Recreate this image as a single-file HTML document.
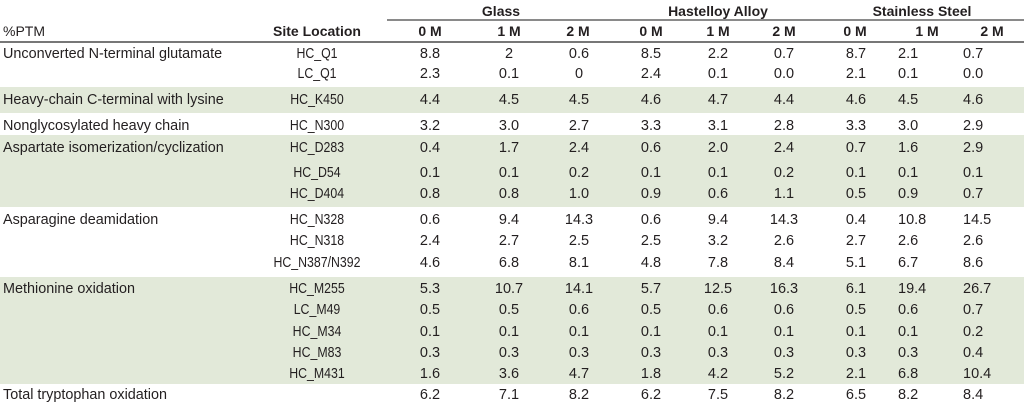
<!DOCTYPE html>
<html>
<head>
<meta charset="utf-8">
<style>
  html,body{margin:0;padding:0;background:#fff;}
  body{width:1024px;height:405px;position:relative;overflow:hidden;
       font-family:"Liberation Sans",Arial,sans-serif;color:#231f20;}
  .band{position:absolute;left:0;width:1024px;background:#e2e9d9;}
  .line{position:absolute;height:2px;}
  .c{position:absolute;height:20px;line-height:20px;white-space:nowrap;font-size:14.5px;}
  .lab{left:3px;font-size:14.4px;}
  .site{left:257px;width:120px;text-align:center;font-size:14.5px;transform:scaleX(0.85);transform-origin:center;}
  .n{width:80px;text-align:center;}
  .g0{left:390px}.g1{left:469px}.g2{left:539px}
  .h0{left:611px}.h1{left:678px}.h2{left:744px}
  .s0{left:816px}
  .s1{left:898px;text-align:left}
  .s2{left:963px;text-align:left}
  .b{font-weight:bold;font-size:14px;}
  .hd{top:21px;}
  .tt{top:1px;width:160px;text-align:center;}
</style>
</head>
<body>
<!-- green bands -->
<div class="band" style="top:87px;height:26px;"></div>
<div class="band" style="top:135px;height:72px;"></div>
<div class="band" style="top:277px;height:107px;"></div>

<!-- rules -->
<div class="line" style="left:387px;width:637px;top:19px;background:#8a8a8a;"></div>
<div class="line" style="left:0;width:1024px;top:41px;background:#777;"></div>

<!-- group titles -->
<div class="c b tt" style="left:421px;">Glass</div>
<div class="c b tt" style="left:638px;">Hastelloy Alloy</div>
<div class="c b tt" style="left:842px;">Stainless Steel</div>

<!-- header row -->
<div class="c hd lab" style="font-size:14px;">%PTM</div>
<div class="c hd b" style="left:257px;width:120px;text-align:center;">Site Location</div>
<div class="c hd b n" style="left:390px;">0 M</div>
<div class="c hd b n" style="left:469px;">1 M</div>
<div class="c hd b n" style="left:538px;">2 M</div>
<div class="c hd b n" style="left:611px;">0 M</div>
<div class="c hd b n" style="left:678px;">1 M</div>
<div class="c hd b n" style="left:744px;">2 M</div>
<div class="c hd b n" style="left:815px;">0 M</div>
<div class="c hd b n" style="left:887px;">1 M</div>
<div class="c hd b n" style="left:952px;">2 M</div>

<!-- row 54 -->
<div class="c lab" style="top:44px;">Unconverted N-terminal glutamate</div>
<div class="c site" style="top:44px;">HC_Q1</div>
<div class="c n g0" style="top:44px;">8.8</div><div class="c n g1" style="top:44px;">2</div><div class="c n g2" style="top:44px;">0.6</div>
<div class="c n h0" style="top:44px;">8.5</div><div class="c n h1" style="top:44px;">2.2</div><div class="c n h2" style="top:44px;">0.7</div>
<div class="c n s0" style="top:44px;">8.7</div><div class="c s1" style="top:44px;">2.1</div><div class="c s2" style="top:44px;">0.7</div>

<!-- row 74 -->
<div class="c site" style="top:64px;">LC_Q1</div>
<div class="c n g0" style="top:64px;">2.3</div><div class="c n g1" style="top:64px;">0.1</div><div class="c n g2" style="top:64px;">0</div>
<div class="c n h0" style="top:64px;">2.4</div><div class="c n h1" style="top:64px;">0.1</div><div class="c n h2" style="top:64px;">0.0</div>
<div class="c n s0" style="top:64px;">2.1</div><div class="c s1" style="top:64px;">0.1</div><div class="c s2" style="top:64px;">0.0</div>

<!-- row 100 -->
<div class="c lab" style="top:90px;">Heavy-chain C-terminal with lysine</div>
<div class="c site" style="top:90px;">HC_K450</div>
<div class="c n g0" style="top:90px;">4.4</div><div class="c n g1" style="top:90px;">4.5</div><div class="c n g2" style="top:90px;">4.5</div>
<div class="c n h0" style="top:90px;">4.6</div><div class="c n h1" style="top:90px;">4.7</div><div class="c n h2" style="top:90px;">4.4</div>
<div class="c n s0" style="top:90px;">4.6</div><div class="c s1" style="top:90px;">4.5</div><div class="c s2" style="top:90px;">4.6</div>

<!-- row 126 -->
<div class="c lab" style="top:116px;">Nonglycosylated heavy chain</div>
<div class="c site" style="top:116px;">HC_N300</div>
<div class="c n g0" style="top:116px;">3.2</div><div class="c n g1" style="top:116px;">3.0</div><div class="c n g2" style="top:116px;">2.7</div>
<div class="c n h0" style="top:116px;">3.3</div><div class="c n h1" style="top:116px;">3.1</div><div class="c n h2" style="top:116px;">2.8</div>
<div class="c n s0" style="top:116px;">3.3</div><div class="c s1" style="top:116px;">3.0</div><div class="c s2" style="top:116px;">2.9</div>

<!-- row 148 -->
<div class="c lab" style="top:138px;">Aspartate isomerization/cyclization</div>
<div class="c site" style="top:138px;">HC_D283</div>
<div class="c n g0" style="top:138px;">0.4</div><div class="c n g1" style="top:138px;">1.7</div><div class="c n g2" style="top:138px;">2.4</div>
<div class="c n h0" style="top:138px;">0.6</div><div class="c n h1" style="top:138px;">2.0</div><div class="c n h2" style="top:138px;">2.4</div>
<div class="c n s0" style="top:138px;">0.7</div><div class="c s1" style="top:138px;">1.6</div><div class="c s2" style="top:138px;">2.9</div>

<!-- row 173 -->
<div class="c site" style="top:163px;">HC_D54</div>
<div class="c n g0" style="top:163px;">0.1</div><div class="c n g1" style="top:163px;">0.1</div><div class="c n g2" style="top:163px;">0.2</div>
<div class="c n h0" style="top:163px;">0.1</div><div class="c n h1" style="top:163px;">0.1</div><div class="c n h2" style="top:163px;">0.2</div>
<div class="c n s0" style="top:163px;">0.1</div><div class="c s1" style="top:163px;">0.1</div><div class="c s2" style="top:163px;">0.1</div>

<!-- row 194 -->
<div class="c site" style="top:184px;">HC_D404</div>
<div class="c n g0" style="top:184px;">0.8</div><div class="c n g1" style="top:184px;">0.8</div><div class="c n g2" style="top:184px;">1.0</div>
<div class="c n h0" style="top:184px;">0.9</div><div class="c n h1" style="top:184px;">0.6</div><div class="c n h2" style="top:184px;">1.1</div>
<div class="c n s0" style="top:184px;">0.5</div><div class="c s1" style="top:184px;">0.9</div><div class="c s2" style="top:184px;">0.7</div>

<!-- row 220 -->
<div class="c lab" style="top:210px;">Asparagine deamidation</div>
<div class="c site" style="top:210px;">HC_N328</div>
<div class="c n g0" style="top:210px;">0.6</div><div class="c n g1" style="top:210px;">9.4</div><div class="c n g2" style="top:210px;">14.3</div>
<div class="c n h0" style="top:210px;">0.6</div><div class="c n h1" style="top:210px;">9.4</div><div class="c n h2" style="top:210px;">14.3</div>
<div class="c n s0" style="top:210px;">0.4</div><div class="c s1" style="top:210px;">10.8</div><div class="c s2" style="top:210px;">14.5</div>

<!-- row 241 -->
<div class="c site" style="top:231px;">HC_N318</div>
<div class="c n g0" style="top:231px;">2.4</div><div class="c n g1" style="top:231px;">2.7</div><div class="c n g2" style="top:231px;">2.5</div>
<div class="c n h0" style="top:231px;">2.5</div><div class="c n h1" style="top:231px;">3.2</div><div class="c n h2" style="top:231px;">2.6</div>
<div class="c n s0" style="top:231px;">2.7</div><div class="c s1" style="top:231px;">2.6</div><div class="c s2" style="top:231px;">2.6</div>

<!-- row 263 -->
<div class="c site" style="top:253px;">HC_N387/N392</div>
<div class="c n g0" style="top:253px;">4.6</div><div class="c n g1" style="top:253px;">6.8</div><div class="c n g2" style="top:253px;">8.1</div>
<div class="c n h0" style="top:253px;">4.8</div><div class="c n h1" style="top:253px;">7.8</div><div class="c n h2" style="top:253px;">8.4</div>
<div class="c n s0" style="top:253px;">5.1</div><div class="c s1" style="top:253px;">6.7</div><div class="c s2" style="top:253px;">8.6</div>

<!-- row 289 -->
<div class="c lab" style="top:279px;">Methionine oxidation</div>
<div class="c site" style="top:279px;">HC_M255</div>
<div class="c n g0" style="top:279px;">5.3</div><div class="c n g1" style="top:279px;">10.7</div><div class="c n g2" style="top:279px;">14.1</div>
<div class="c n h0" style="top:279px;">5.7</div><div class="c n h1" style="top:279px;">12.5</div><div class="c n h2" style="top:279px;">16.3</div>
<div class="c n s0" style="top:279px;">6.1</div><div class="c s1" style="top:279px;">19.4</div><div class="c s2" style="top:279px;">26.7</div>

<!-- row 310 -->
<div class="c site" style="top:300px;">LC_M49</div>
<div class="c n g0" style="top:300px;">0.5</div><div class="c n g1" style="top:300px;">0.5</div><div class="c n g2" style="top:300px;">0.6</div>
<div class="c n h0" style="top:300px;">0.5</div><div class="c n h1" style="top:300px;">0.6</div><div class="c n h2" style="top:300px;">0.6</div>
<div class="c n s0" style="top:300px;">0.5</div><div class="c s1" style="top:300px;">0.6</div><div class="c s2" style="top:300px;">0.7</div>

<!-- row 332 -->
<div class="c site" style="top:322px;">HC_M34</div>
<div class="c n g0" style="top:322px;">0.1</div><div class="c n g1" style="top:322px;">0.1</div><div class="c n g2" style="top:322px;">0.1</div>
<div class="c n h0" style="top:322px;">0.1</div><div class="c n h1" style="top:322px;">0.1</div><div class="c n h2" style="top:322px;">0.1</div>
<div class="c n s0" style="top:322px;">0.1</div><div class="c s1" style="top:322px;">0.1</div><div class="c s2" style="top:322px;">0.2</div>

<!-- row 353 -->
<div class="c site" style="top:343px;">HC_M83</div>
<div class="c n g0" style="top:343px;">0.3</div><div class="c n g1" style="top:343px;">0.3</div><div class="c n g2" style="top:343px;">0.3</div>
<div class="c n h0" style="top:343px;">0.3</div><div class="c n h1" style="top:343px;">0.3</div><div class="c n h2" style="top:343px;">0.3</div>
<div class="c n s0" style="top:343px;">0.3</div><div class="c s1" style="top:343px;">0.3</div><div class="c s2" style="top:343px;">0.4</div>

<!-- row 374 -->
<div class="c site" style="top:364px;">HC_M431</div>
<div class="c n g0" style="top:364px;">1.6</div><div class="c n g1" style="top:364px;">3.6</div><div class="c n g2" style="top:364px;">4.7</div>
<div class="c n h0" style="top:364px;">1.8</div><div class="c n h1" style="top:364px;">4.2</div><div class="c n h2" style="top:364px;">5.2</div>
<div class="c n s0" style="top:364px;">2.1</div><div class="c s1" style="top:364px;">6.8</div><div class="c s2" style="top:364px;">10.4</div>

<!-- row 395 -->
<div class="c lab" style="top:385px;">Total tryptophan oxidation</div>
<div class="c n g0" style="top:385px;">6.2</div><div class="c n g1" style="top:385px;">7.1</div><div class="c n g2" style="top:385px;">8.2</div>
<div class="c n h0" style="top:385px;">6.2</div><div class="c n h1" style="top:385px;">7.5</div><div class="c n h2" style="top:385px;">8.2</div>
<div class="c n s0" style="top:385px;">6.5</div><div class="c s1" style="top:385px;">8.2</div><div class="c s2" style="top:385px;">8.4</div>
</body>
</html>
